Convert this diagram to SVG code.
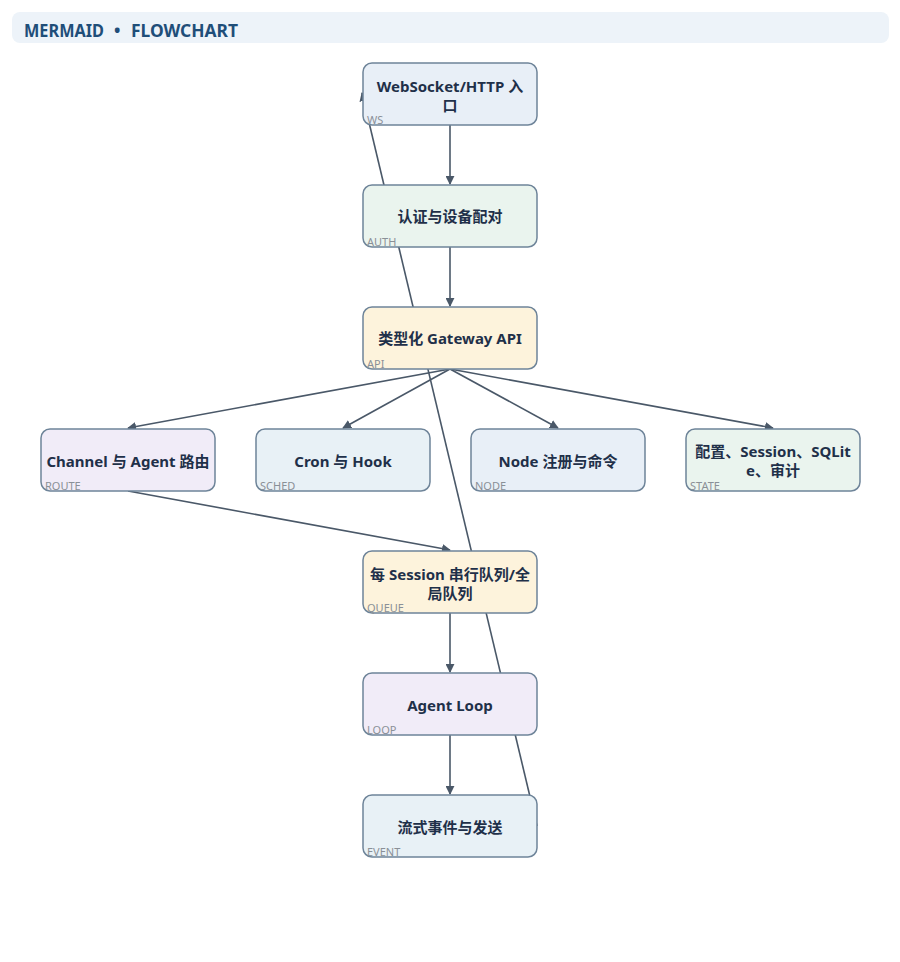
<svg xmlns="http://www.w3.org/2000/svg" width="900" height="962" viewBox="0 0 900 962">
<defs>
<marker id="ah" viewBox="0 0 10 10" refX="9" refY="5" markerWidth="9" markerHeight="9" markerUnits="userSpaceOnUse" orient="auto">
<path d="M0,0 L10,5 L0,10 z" fill="#4a5868"/>
</marker>
</defs>
<style>
.hdr{fill:#edf3f9}
.title{font-family:"Noto Sans","Liberation Sans",sans-serif;font-weight:700;font-size:17px;fill:#1f4e79}
.n rect{stroke:#6e8499;stroke-width:1.5}
.t{font-family:"Noto Sans","Noto Sans CJK SC",sans-serif;font-weight:700;font-size:15px;fill:#1f3049;text-anchor:middle}
.s{font-family:"Noto Sans","Liberation Sans",sans-serif;font-size:11px;fill:#8a9097}
.blue{fill:#e8eff7}
.green{fill:#eaf4ee}
.yellow{fill:#fdf3dc}
.purple{fill:#f1ecf8}
.sky{fill:#e8f1f6}
.e{stroke:#4a5868;stroke-width:1.6;fill:none;marker-end:url(#ah)}
</style>
<rect x="0" y="0" width="900" height="962" fill="#ffffff"/>
<rect class="hdr" x="12" y="12" width="877" height="31" rx="8"/>
<text class="title" x="24" y="37" textLength="80" lengthAdjust="spacingAndGlyphs">MERMAID</text>
<text class="title" x="114" y="37">•</text>
<text class="title" x="131" y="37" textLength="107" lengthAdjust="spacingAndGlyphs">FLOWCHART</text>
<g id="edges">
<line class="e" x1="450" y1="125" x2="450" y2="184"/>
<line class="e" x1="450" y1="247" x2="450" y2="306"/>
<line class="e" x1="450" y1="369" x2="128" y2="428"/>
<line class="e" x1="450" y1="369" x2="343" y2="428"/>
<line class="e" x1="450" y1="369" x2="558" y2="428"/>
<line class="e" x1="450" y1="369" x2="773" y2="428"/>
<line class="e" x1="128" y1="491" x2="450" y2="550"/>
<line class="e" x1="450" y1="613" x2="450" y2="672"/>
<line class="e" x1="450" y1="735" x2="450" y2="794"/>
<line class="e" x1="537" y1="826" x2="362" y2="93"/>
</g>
<g id="WS" class="n"><rect class="blue" x="363" y="63" width="174" height="62" rx="9"/><text class="t" x="450" y="92">WebSocket/HTTP 入</text><text class="t" x="450" y="111">口</text><text class="s" x="367" y="124">WS</text></g>
<g id="AUTH" class="n"><rect class="green" x="363" y="185" width="174" height="62" rx="9"/><text class="t" x="450" y="222">认证与设备配对</text><text class="s" x="367" y="246">AUTH</text></g>
<g id="API" class="n"><rect class="yellow" x="363" y="307" width="174" height="62" rx="9"/><text class="t" x="450" y="344">类型化 Gateway API</text><text class="s" x="367" y="368">API</text></g>
<g id="ROUTE" class="n"><rect class="purple" x="41" y="429" width="174" height="62" rx="9"/><text class="t" x="128" y="467">Channel 与 Agent 路由</text><text class="s" x="45" y="490">ROUTE</text></g>
<g id="SCHED" class="n"><rect class="sky" x="256" y="429" width="174" height="62" rx="9"/><text class="t" x="343" y="467">Cron 与 Hook</text><text class="s" x="260" y="490">SCHED</text></g>
<g id="NODE" class="n"><rect class="blue" x="471" y="429" width="174" height="62" rx="9"/><text class="t" x="558" y="467">Node 注册与命令</text><text class="s" x="475" y="490">NODE</text></g>
<g id="STATE" class="n"><rect class="green" x="686" y="429" width="174" height="62" rx="9"/><text class="t" x="773" y="457">配置、Session、SQLit</text><text class="t" x="773" y="476">e、审计</text><text class="s" x="690" y="490">STATE</text></g>
<g id="QUEUE" class="n"><rect class="yellow" x="363" y="551" width="174" height="62" rx="9"/><text class="t" x="450" y="580">每 Session 串行队列/全</text><text class="t" x="450" y="599">局队列</text><text class="s" x="367" y="612">QUEUE</text></g>
<g id="LOOP" class="n"><rect class="purple" x="363" y="673" width="174" height="62" rx="9"/><text class="t" x="450" y="711">Agent Loop</text><text class="s" x="367" y="734">LOOP</text></g>
<g id="EVENT" class="n"><rect class="sky" x="363" y="795" width="174" height="62" rx="9"/><text class="t" x="450" y="833">流式事件与发送</text><text class="s" x="367" y="856">EVENT</text></g>
</svg>
